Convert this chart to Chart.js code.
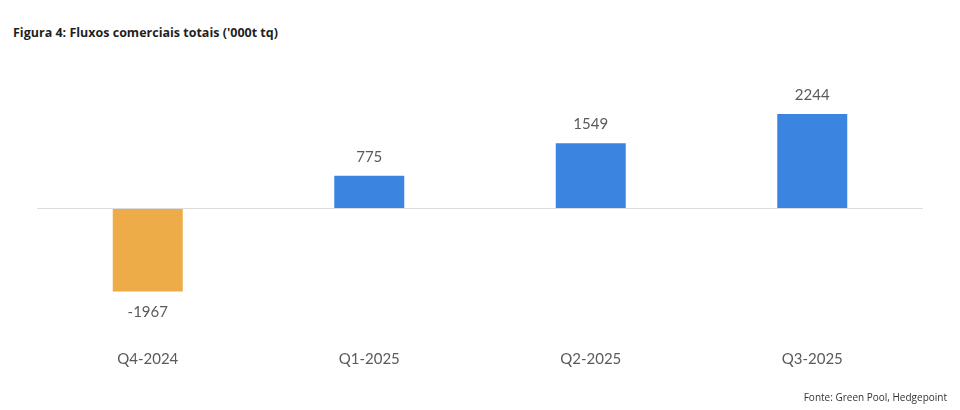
<!DOCTYPE html>
<html>
<head>
<meta charset="utf-8">
<script src="https://cdn.jsdelivr.net/npm/chart.js@4"></script>
<style>
  body { margin: 0; background: #fff; }
  #wrap { position: relative; width: 960px; height: 410px; }
  #title { position: absolute; left: 13px; top: 24px; font: bold 12.5px "Open Sans", sans-serif; color: #1f1f1f; }
  #source { position: absolute; right: 13px; top: 390px; font: 10px "Open Sans", sans-serif; color: #333; }
  canvas { position: absolute; left: 0; top: 0; }
</style>
</head>
<body>
<div id="wrap">
  <div id="title">Figura 4: Fluxos comerciais totais ('000t tq)</div>
  <canvas id="fluxos" width="960" height="410"></canvas>
  <div id="source">Fonte: Green Pool, Hedgepoint</div>
</div>
<script>
const quarters = ["Q4-2024", "Q1-2025", "Q2-2025", "Q3-2025"];
const fluxos = [-1967, 775, 1549, 2244];

// value labels above / below each bar
const valueLabels = {
  id: "valueLabels",
  afterDatasetsDraw(chart) {
    const ctx = chart.ctx;
    const meta = chart.getDatasetMeta(0);
    ctx.save();
    ctx.font = "15px Lato, sans-serif";
    ctx.fillStyle = "#5a5a5a";
    ctx.textAlign = "center";
    ctx.textBaseline = "middle";
    meta.data.forEach((bar, i) => {
      const v = fluxos[i];
      const y = v >= 0 ? bar.y - 19 : bar.y + 21;
      ctx.fillText(String(v), bar.x, y);
    });
    ctx.restore();
  }
};

new Chart(document.getElementById("fluxos"), {
  type: "bar",
  data: {
    labels: quarters,
    datasets: [{
      data: fluxos,
      backgroundColor: fluxos.map(v => v < 0 ? "#eeac48" : "#3b85e0"),
      barPercentage: 1,
      categoryPercentage: 0.316,
    }],
  },
  options: {
    responsive: false,
    animation: false,
    layout: { padding: { left: 37, right: 37, top: 82, bottom: 27 } },
    plugins: { legend: { display: false }, tooltip: { enabled: false } },
    scales: {
      x: {
        grid: { display: false, drawTicks: false },
        border: { display: false },
        ticks: { padding: 15, color: "#5a5a5a", font: { family: "Lato, sans-serif", size: 15 } },
      },
      y: {
        min: -3000,
        max: 3000,
        ticks: { display: false, stepSize: 1000 },
        border: { display: false },
        grid: {
          drawTicks: false,
          color: c => c.tick && c.tick.value === 0 ? "#dcdcdc" : "rgba(0,0,0,0)",
          lineWidth: 1,
        },
      },
    },
  },
  plugins: [valueLabels],
});
</script>
</body>
</html>
